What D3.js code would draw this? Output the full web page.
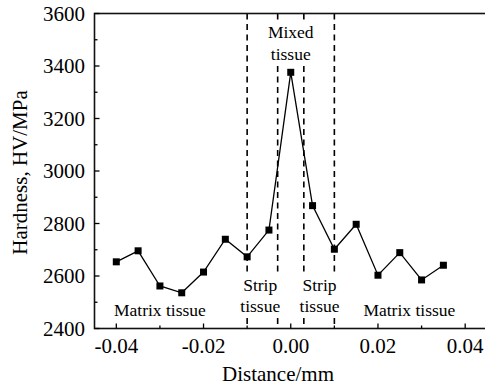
<!DOCTYPE html>
<html>
<head>
<meta charset="utf-8">
<script src="https://cdn.jsdelivr.net/npm/d3@7"></script>
<style>
  html, body { margin: 0; padding: 0; background: #fff; overflow: hidden; }
  svg { display: block; }
</style>
</head>
<body>
<svg id="chart" width="485" height="390" font-family="'Liberation Serif', 'Times New Roman', Times, 'DejaVu Serif', serif"></svg>
<script>
// ---- data ----
const distance = [-0.04, -0.035, -0.03, -0.025, -0.02, -0.015, -0.01, -0.005, 0, 0.005, 0.01, 0.015, 0.02, 0.025, 0.03, 0.035];
const hardness = [2654, 2696, 2562, 2536, 2615, 2740, 2673, 2775, 3376, 2868, 2702, 2797, 2603, 2689, 2585, 2641];
const xTickValues = [-0.04, -0.02, 0.00, 0.02, 0.04];
const xTickLabels = ["-0.04", "-0.02", "0.00", "0.02", "0.04"];
const yTickValues = [2400, 2600, 2800, 3000, 3200, 3400, 3600];
const yTickLabels = ["2400", "2600", "2800", "3000", "3200", "3400", "3600"];
const boundaries = [-0.01, -0.003, 0.003, 0.01];
const zoneLabels = [["Mixed", "tissue"], ["Strip", "tissue"], ["Strip", "tissue"], ["Matrix tissue"], ["Matrix tissue"]];
const zoneCenters = [0.0, -0.0070, 0.0066, -0.0300, 0.0272];

// ---- layout ----
const svg = d3.select("#chart");
const mL = 94.5, mR = 487, mT = 13.5, mB = 328.5;
const x = d3.scaleLinear().domain([-0.045, 0.045]).range([mL, mR]);
const y = d3.scaleLinear().domain([2400, 3600]).range([mB, mT]);

// dashed boundaries
svg.append("g").selectAll("line").data(boundaries).join("line")
  .attr("x1", d => x(d)).attr("x2", d => x(d))
  .attr("y1", mT).attr("y2", mB)
  .attr("stroke", "#000").attr("stroke-width", 1.6)
  .attr("stroke-dasharray", "6,4.5");

// zone labels with white background
const labelBaselines = [[38, 59.5], [290.5, 312], [290.5, 312], [316], [316]];
const lab = svg.append("g");
zoneLabels.forEach((lines, i) => {
  const g = lab.append("g");
  const t = g.append("text").attr("text-anchor", "middle").attr("font-size", 17.5).attr("fill", "#000");
  lines.forEach((ln, j) => {
    t.append("tspan").attr("x", x(zoneCenters[i])).attr("y", labelBaselines[i][j]).text(ln);
  });
  const bb = t.node().getBBox();
  g.insert("rect", "text")
    .attr("x", bb.x - 2).attr("y", bb.y - 1)
    .attr("width", bb.width + 4).attr("height", bb.height + 2)
    .attr("fill", "#fff");
});

// data line
const line = d3.line().x((d, i) => x(distance[i])).y(d => y(d));
svg.append("path").datum(hardness)
  .attr("d", line).attr("fill", "none")
  .attr("stroke", "#000").attr("stroke-width", 1.3);

// markers
const ms = 7;
svg.append("g").selectAll("rect").data(hardness).join("rect")
  .attr("x", (d, i) => x(distance[i]) - ms / 2)
  .attr("y", d => y(d) - ms / 2)
  .attr("width", ms).attr("height", ms)
  .attr("fill", "#000");

// frame (right edge lies outside the window, as in the reference)
svg.append("rect")
  .attr("x", mL).attr("y", mT)
  .attr("width", mR + 6 - mL).attr("height", mB - mT)
  .attr("fill", "none").attr("stroke", "#111").attr("stroke-width", 1.6);

// ticks (inward)
const xMinor = d3.range(-0.04, 0.0401, 0.01);
const yMinor = d3.range(2400, 3601, 100);
const tk = svg.append("g").attr("stroke", "#000").attr("stroke-width", 1.3);
xMinor.forEach(v => {
  const major = Math.abs(Math.round(v * 100)) % 2 === 0;
  tk.append("line").attr("x1", x(v)).attr("x2", x(v))
    .attr("y1", mB).attr("y2", mB - (major ? 5 : 3));
});
yMinor.forEach(v => {
  const major = v % 200 === 0;
  tk.append("line").attr("x1", mL).attr("x2", mL + (major ? 5 : 3))
    .attr("y1", y(v)).attr("y2", y(v));
});

// tick labels
svg.append("g").selectAll("text").data(xTickValues).join("text")
  .attr("x", d => x(d)).attr("y", 353)
  .attr("text-anchor", "middle").attr("font-size", 21)
  .text((d, i) => xTickLabels[i]);
svg.append("g").selectAll("text").data(yTickValues).join("text")
  .attr("x", 85).attr("y", d => y(d) + 7)
  .attr("text-anchor", "end").attr("font-size", 21)
  .text((d, i) => yTickLabels[i]);

// axis titles
svg.append("text").attr("x", 278).attr("y", 381)
  .attr("text-anchor", "middle").attr("font-size", 21)
  .text("Distance/mm");
svg.append("text")
  .attr("transform", "translate(27,172.5) rotate(-90)")
  .attr("text-anchor", "middle").attr("font-size", 21)
  .text("Hardness, HV/MPa");
</script>
</body>
</html>
